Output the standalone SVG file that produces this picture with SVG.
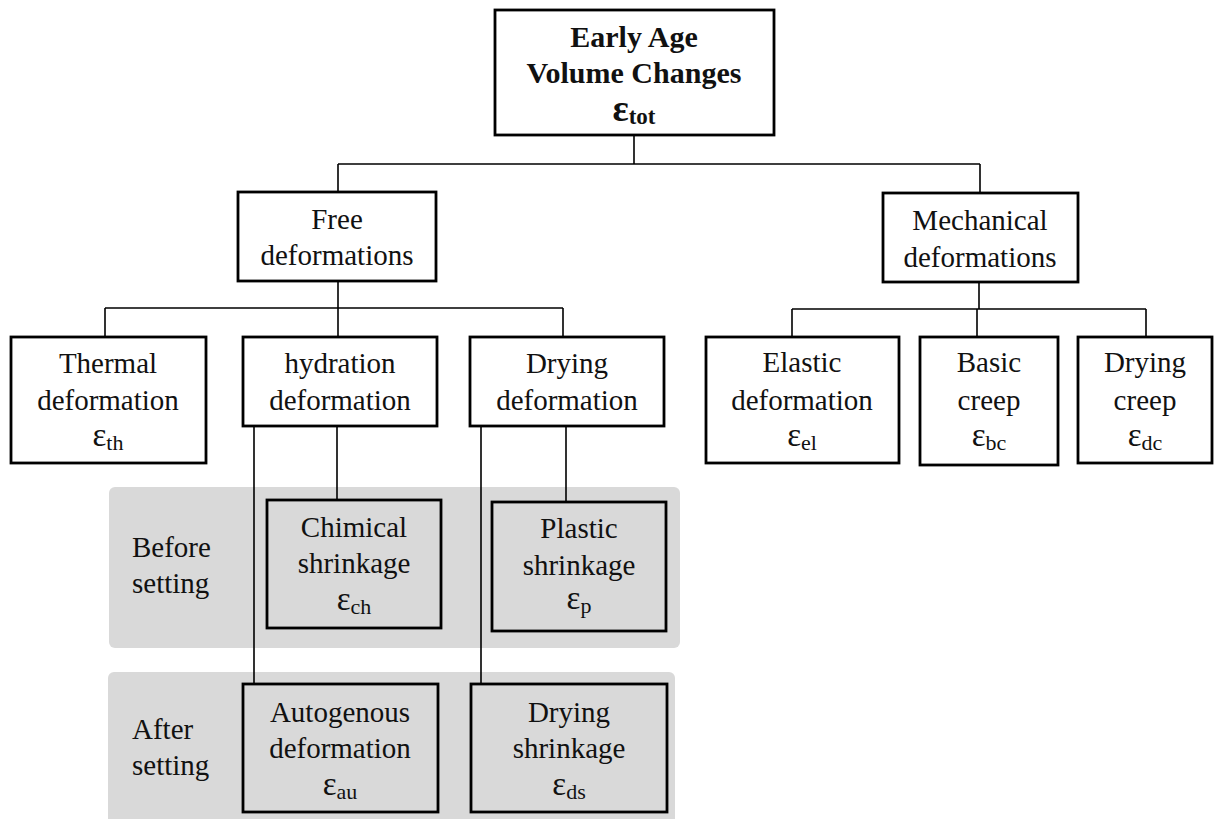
<svg xmlns="http://www.w3.org/2000/svg" width="1217" height="819" viewBox="0 0 1217 819" font-family="'Liberation Serif','Times New Roman',serif">
<style>
.bg{fill:#d9d9d9}
.box{fill:#ffffff;stroke:#000;stroke-width:2.8}
.gbox{fill:#d9d9d9;stroke:#000;stroke-width:2.8}
.ln{fill:none;stroke:#000;stroke-width:1.6}
text{font-family:"Liberation Serif","Times New Roman",serif;font-size:29px;fill:#111;text-anchor:middle}
.b{font-weight:bold;font-size:30px}
.l{text-anchor:start}
.e{font-size:33px}
.sub{font-size:22px}
</style>
<rect class="bg" x="109" y="487" width="571" height="161" rx="6"/>
<rect class="bg" x="108" y="672" width="567" height="160" rx="6"/>
<g id="connectors">
<path class="ln" d="M634 135V164M338 164H980M338 164V192M980 164V193"/>
<path class="ln" d="M338 281V308M105 308H563M105 308V337M338 308V337M563 308V337"/>
<path class="ln" d="M979 282V309M792 309H1146M792 309V337M977 309V337M1146 309V337"/>
<path class="ln" d="M254 426V684M337 426V500M481 426V684M566 426V502"/>
</g>
<g id="root"><rect class="box" x="495" y="10" width="279" height="125"/>
<text class="b" x="634" y="47">Early Age</text>
<text class="b" x="634" y="83">Volume Changes</text>
<text class="b" x="634" y="121"><tspan font-size="38">ε</tspan><tspan font-size="23" dy="3">tot</tspan></text></g>
<g id="free"><rect class="box" x="238" y="192" width="198" height="89"/>
<text x="337" y="229">Free</text><text x="337" y="265">deformations</text></g>
<g id="mechanical"><rect class="box" x="883" y="193" width="195" height="89"/>
<text x="980" y="230">Mechanical</text><text x="980" y="267">deformations</text></g>
<g id="thermal"><rect class="box" x="11" y="337" width="195" height="126"/>
<text x="108" y="373">Thermal</text><text x="108" y="410">deformation</text>
<text x="108" y="446"><tspan class="e">ε</tspan><tspan class="sub" dy="4">th</tspan></text></g>
<g id="hydration"><rect class="box" x="243" y="337" width="194" height="89"/>
<text x="340" y="373">hydration</text><text x="340" y="410">deformation</text></g>
<g id="drying"><rect class="box" x="470" y="337" width="194" height="89"/>
<text x="567" y="373">Drying</text><text x="567" y="410">deformation</text></g>
<g id="elastic"><rect class="box" x="706" y="337" width="193" height="126"/>
<text x="802" y="372">Elastic</text><text x="802" y="410">deformation</text>
<text x="802" y="446"><tspan class="e">ε</tspan><tspan class="sub" dy="4">el</tspan></text></g>
<g id="basic"><rect class="box" x="920" y="337" width="138" height="128"/>
<text x="989" y="372">Basic</text><text x="989" y="410">creep</text>
<text x="989" y="446"><tspan class="e">ε</tspan><tspan class="sub" dy="4">bc</tspan></text></g>
<g id="dryingcreep"><rect class="box" x="1078" y="337" width="134" height="126"/>
<text x="1145" y="372">Drying</text><text x="1145" y="410">creep</text>
<text x="1145" y="446"><tspan class="e">ε</tspan><tspan class="sub" dy="4">dc</tspan></text></g>
<g id="before"><text class="l" x="132" y="557">Before</text><text class="l" x="132" y="593">setting</text></g>
<g id="after"><text class="l" x="132" y="739">After</text><text class="l" x="132" y="775">setting</text></g>
<g id="chemical"><rect class="gbox" x="267" y="500" width="174" height="128"/>
<text x="354" y="537">Chimical</text><text x="354" y="573">shrinkage</text>
<text x="354" y="610"><tspan class="e">ε</tspan><tspan class="sub" dy="4">ch</tspan></text></g>
<g id="plastic"><rect class="gbox" x="492" y="502" width="174" height="129"/>
<text x="579" y="538">Plastic</text><text x="579" y="575">shrinkage</text>
<text x="579" y="609"><tspan class="e">ε</tspan><tspan class="sub" dy="4">p</tspan></text></g>
<g id="autogenous"><rect class="gbox" x="243" y="684" width="195" height="128"/>
<text x="340" y="722">Autogenous</text><text x="340" y="758">deformation</text>
<text x="340" y="795"><tspan class="e">ε</tspan><tspan class="sub" dy="4">au</tspan></text></g>
<g id="dryingshrinkage"><rect class="gbox" x="471" y="684" width="196" height="128"/>
<text x="569" y="722">Drying</text><text x="569" y="758">shrinkage</text>
<text x="569" y="795"><tspan class="e">ε</tspan><tspan class="sub" dy="4">ds</tspan></text></g>
</svg>
